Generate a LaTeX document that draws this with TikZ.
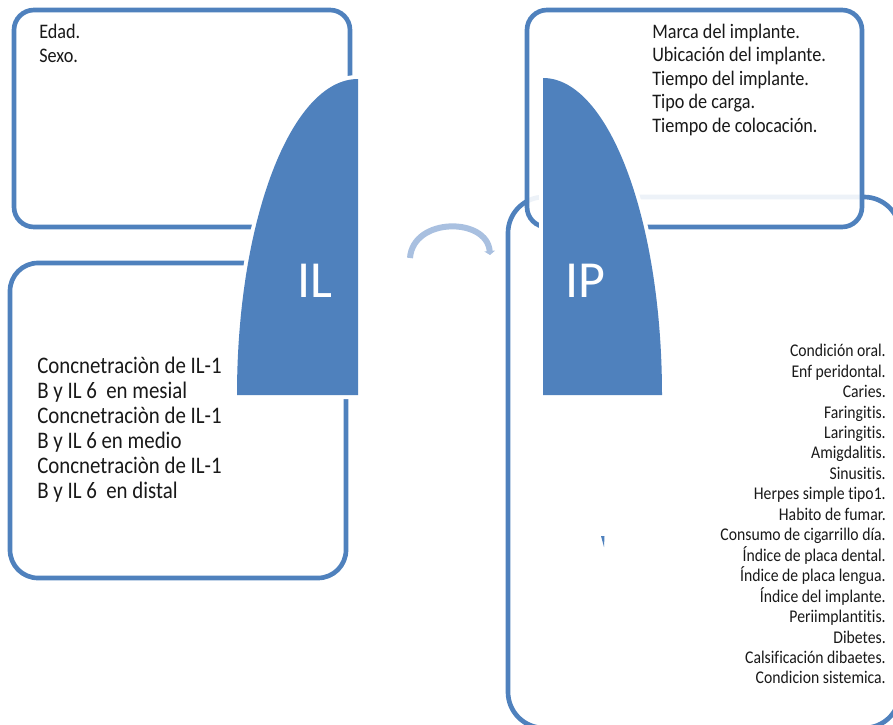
\documentclass[tikz,border=0pt]{standalone}
\usepackage{fontspec}
\setmainfont[Ligatures=NoCommon]{Carlito}
\newfontfamily\boxfont[FakeStretch=0.88,Ligatures=NoCommon]{Carlito}
\usetikzlibrary{arrows.meta}
\definecolor{ilblue}{HTML}{4F81BD}
\definecolor{arrowblue}{HTML}{A9C0E0}
\tikzset{
  roundbox/.style={draw=ilblue,line width=3.5pt,fill=white},
  tab/.style={fill=ilblue,preaction={draw=white,line width=6pt}},
  tablabel/.style={text=white,font=\fontsize{39}{40}\selectfont,anchor=base,inner sep=0pt},
  item/.style={font=\boxfont\fontsize{15.5}{18}\selectfont,text=black!90,inner sep=0pt},
  bigitem/.style={font=\boxfont\fontsize{17.8}{19}\selectfont,text=black!90,inner sep=0pt,anchor=base west},
  smallitem/.style={font=\boxfont\fontsize{13.4}{15}\selectfont,text=black!90,inner sep=0pt,anchor=base east},
  cyclearrow/.style={draw=arrowblue,line width=4.5pt,-{Triangle[length=3pt,width=8pt]}}
}
\begin{document}
\begin{tikzpicture}[x=0.75pt,y=-0.75pt]
\useasboundingbox (0,0) rectangle (893,725);
\draw[roundbox,rounded corners=15pt] (14,10) rectangle (350,227);
\draw[roundbox,rounded corners=21pt] (10,263) rectangle (346,578);
\fill[tab] (358,79) -- (358,395) -- (237,395) .. controls (237,220.5) and (291.2,79) .. (358,79) -- cycle;
\node[tablabel] (il) at (315,297) {IL};
\node[item,anchor=base west] (edad) at (39,38) {Edad.};
\node[item,anchor=base west] (sexo) at (39,62) {Sexo.};
\foreach \t [count=\i] in {Concnetraciòn de IL-1,B y IL 6\ \ en mesial,Concnetraciòn de IL-1,B y IL 6 en medio,Concnetraciòn de IL-1,B y IL 6\ \ en distal}
  \node[bigitem] (conc\i) at (37,{373+(\i-1)*25}) {\t};
\coordinate (arrowfrom) at (410,258);
\coordinate (arrowto) at (490,255);
\draw[cyclearrow] (arrowfrom) .. controls (413,217) and (487,217) .. (arrowto);
\draw[roundbox,rounded corners=27pt] (508,197) rectangle (900,728);
\draw[roundbox,fill opacity=0.9,rounded corners=15pt] (527,10) rectangle (862,227);
\foreach \t [count=\i] in {Marca del implante.,Ubicación del implante.,Tiempo del implante.,Tipo de carga.,Tiempo de colocación.}
  \node[item,anchor=base west] (implante\i) at (652,{38+(\i-1)*23.6}) {\t};
\fill[tab] (543,395) -- (543,78) .. controls (608.7,78) and (662,220) .. (662,395) -- cycle;
\node[tablabel] (ip) at (585,297) {IP};
\fill[ilblue] (601,536) -- (604.5,536) -- (604,547) -- cycle;
\foreach \t [count=\i] in {Condición oral.,Enf peridontal.,Caries.,Faringitis.,Laringitis.,Amigdalitis.,Sinusitis.,Herpes simple tipo1.,Habito de fumar.,Consumo de cigarrillo día.,Índice de placa dental.,Índice de placa lengua.,Índice del implante.,Periimplantitis.,Dibetes.,Calsificación dibaetes.,Condicion sistemica.}
  \node[smallitem] (cond\i) at (886,{356.7+(\i-1)*20.45}) {\t};
\end{tikzpicture}
\end{document}
